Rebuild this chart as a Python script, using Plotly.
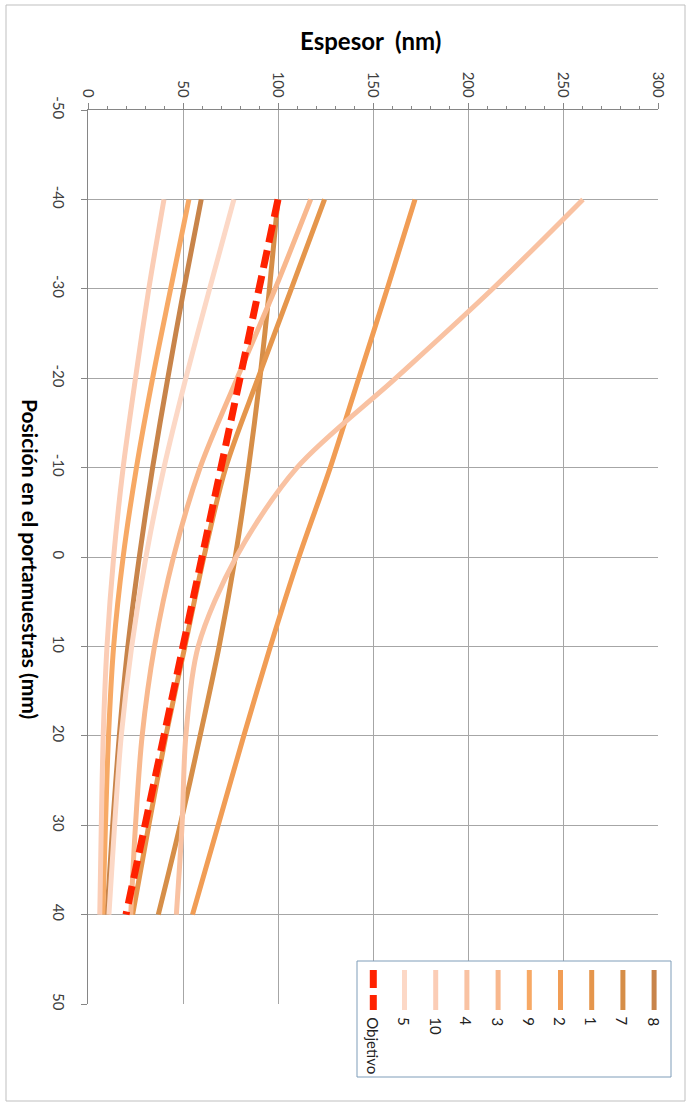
import plotly.graph_objects as go

# ---- data ----
posicion = [-40, -30, -20, -10, 0, 10, 20, 30, 40]
serie_8 = [59.6, 50.5, 42.0, 34.0, 27.0, 21.0, 16.5, 13.0, 10.0]
serie_7 = [100.0, 95.5, 90.5, 84.5, 77.5, 69.0, 59.0, 48.5, 37.0]
serie_1 = [124.5, 107.0, 89.5, 72.5, 61.0, 51.0, 41.0, 32.0, 23.5]
serie_2 = [172.1, 157.5, 142.5, 127.5, 111.0, 96.0, 82.0, 68.5, 55.0]
serie_9 = [53.1, 43.5, 34.0, 25.5, 18.5, 13.5, 10.8, 9.2, 7.8]
serie_3 = [117.2, 98.5, 78.5, 59.0, 45.0, 35.0, 28.5, 25.0, 22.5]
serie_4 = [260.5, 213.0, 162.0, 110.0, 78.0, 58.0, 51.5, 49.5, 46.5]
serie_10 = [40.0, 32.0, 25.0, 18.5, 13.5, 10.0, 8.0, 7.0, 6.2]
serie_5 = [76.8, 64.0, 51.5, 40.0, 30.5, 23.0, 17.5, 14.0, 11.0]
objetivo = [100, 90, 80, 70, 60, 50, 40, 30, 20]

nombres = ["8", "7", "1", "2", "9", "3", "4", "10", "5", "Objetivo"]
valores = [serie_8, serie_7, serie_1, serie_2, serie_9, serie_3, serie_4, serie_10, serie_5, objetivo]

espesor_ticks = [0, 50, 100, 150, 200, 250, 300]
posicion_ticks = [-50, -40, -30, -20, -10, 0, 10, 20, 30, 40, 50]

# ---- styles ----
colores = {
    "8": "#C8844A", "7": "#D68E48", "1": "#E5964C", "2": "#F19D55", "9": "#F7A965",
    "3": "#F8B88E", "4": "#F9C2A2", "10": "#FBCDB6", "5": "#FCD8C6", "Objetivo": "#FF2200",
}
W, H = 692, 1108
FONT = "Lato, Calibri, Carlito, sans-serif"


def fx(px):
    return px / W


def fy(py):
    return 1 - py / H


fig = go.Figure()
for nombre, vals in zip(nombres, valores):
    if nombre == "Objetivo":
        line = dict(color=colores[nombre], width=7, dash="18px,8px")
    else:
        line = dict(color=colores[nombre], width=5, shape="spline", smoothing=0.9)
    fig.add_trace(go.Scatter(x=vals, y=posicion, mode="lines", name=nombre,
                             line=line, showlegend=False, hoverinfo="skip"))

axis_common = dict(
    showgrid=True, gridcolor="#A6A6A6", gridwidth=1,
    showline=True, linecolor="#868686", linewidth=1,
    ticks="outside", ticklen=6, tickcolor="#868686",
    tickangle=90, tickfont=dict(family=FONT, size=15, color="#404040"),
    zeroline=False, automargin=False,
)

fig.update_layout(
    width=W, height=H,
    margin=dict(l=0, r=0, t=0, b=0),
    paper_bgcolor="white", plot_bgcolor="white",
    xaxis=dict(domain=[fx(88), fx(658)], range=[0, 300], side="top",
               tickvals=espesor_ticks, ticktext=[str(v) for v in espesor_ticks],
               minor=dict(dtick=10, ticks="outside", ticklen=3, tickcolor="#868686", showgrid=False),
               **axis_common),
    yaxis=dict(domain=[fy(1004), fy(110)], range=[50, -50],
               tickvals=posicion_ticks, ticktext=[str(v) for v in posicion_ticks],
               ticklabelstandoff=10,
               **axis_common),
    font=dict(family=FONT),
)

annotations = [
    dict(text="<b>Espesor \u00a0(nm)</b>", x=fx(370), y=fy(41), xref="paper", yref="paper",
         showarrow=False, font=dict(family=FONT, size=24, color="#000"), xanchor="center", yanchor="middle"),
    dict(text="<b>Posición en el portamuestras (mm)</b>", x=fx(31), y=fy(559), xref="paper", yref="paper",
         showarrow=False, textangle=90, font=dict(family=FONT, size=21, color="#000"),
         xanchor="center", yanchor="middle"),
]

shapes = [
    # chart border
    dict(type="rect", xref="paper", yref="paper", x0=fx(6), x1=fx(685), y0=fy(1101), y1=fy(5),
         line=dict(color="#BFBFBF", width=1), layer="below"),
    # legend box
    dict(type="rect", xref="paper", yref="paper", x0=fx(357), x1=fx(671), y0=fy(1077), y1=fy(961),
         line=dict(color="#7F9DB9", width=1), fillcolor="white", layer="above"),
]

leg_order = list(reversed(nombres))  # Objetivo, 5, 10, 4, 3, 9, 2, 1, 7, 8
for i, nombre in enumerate(leg_order):
    xc = 373.3 + i * 31.2
    if nombre == "Objetivo":
        ln = dict(color=colores[nombre], width=7, dash="18px,7px")
    else:
        ln = dict(color=colores[nombre], width=5)
    shapes.append(dict(type="line", xref="paper", yref="paper", x0=fx(xc), x1=fx(xc),
                       y0=fy(970), y1=fy(1010), line=ln, layer="above"))
    annotations.append(dict(text=nombre, x=fx(xc), y=fy(1015), xref="paper", yref="paper",
                            showarrow=False, textangle=90, xanchor="center", yanchor="top",
                            font=dict(family=FONT, size=15, color="#222")))

fig.update_layout(shapes=shapes, annotations=annotations)
fig.write_html("out.html", config={"displayModeBar": False},
               post_script="document.body.style.margin='0';")
